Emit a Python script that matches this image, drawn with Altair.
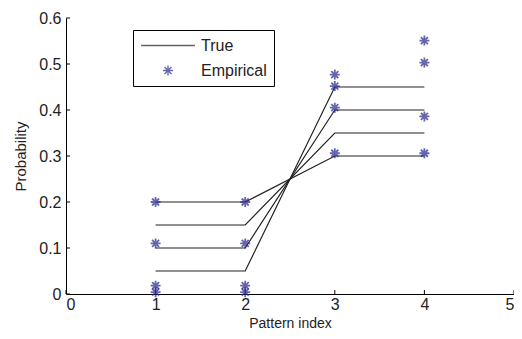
import altair as alt
import pandas as pd

# True curves: values at pattern index 1..4
pattern_idx = [1, 2, 3, 4]
true_curves = [
    [0.20, 0.20, 0.30, 0.30],
    [0.15, 0.15, 0.35, 0.35],
    [0.10, 0.10, 0.40, 0.40],
    [0.05, 0.05, 0.45, 0.45],
]

# Empirical points
emp_x = [1, 1, 1, 1, 2, 2, 2, 2, 3, 3, 3, 3, 4, 4, 4, 4]
emp_y = [0.20, 0.11, 0.018, 0.004,
         0.20, 0.11, 0.018, 0.004,
         0.477, 0.452, 0.405, 0.306,
         0.551, 0.503, 0.386, 0.306]

x_ticks = [0, 1, 2, 3, 4, 5]
y_ticks = [0, 0.1, 0.2, 0.3, 0.4, 0.5, 0.6]

STAR = "M-1,0L1,0M0,-1L0,1M-0.7,-0.7L0.7,0.7M-0.7,0.7L0.7,-0.7"
BLUE = "#26268e"
FONT = "Liberation Sans"
W, H = 448, 276

line_rows = []
for i, curve in enumerate(true_curves):
    for xv, yv in zip(pattern_idx, curve):
        line_rows.append({"line": i, "x": xv, "y": yv})
lines_df = pd.DataFrame(line_rows)
emp_df = pd.DataFrame({"x": emp_x, "y": emp_y, "series": "Empirical"})
xt_df = pd.DataFrame({"v": x_ticks})
yt_df = pd.DataFrame({"v": y_ticks})

xscale = alt.Scale(domain=[0, 5], nice=False)
yscale = alt.Scale(domain=[0, 0.6], nice=False)

xaxis = alt.Axis(values=x_ticks, title="Pattern index", grid=False, ticks=False, tickSize=0,
                 format="d", labelPadding=2, titleY=33.5, titleBaseline="alphabetic",
                 labelFontSize=16, titleFontSize=14,
                 labelColor="#222", titleColor="#222", domainColor="#000", titleFontWeight="normal",
                 labelFont=FONT, titleFont=FONT)
yaxis = alt.Axis(values=y_ticks, title="Probability", grid=False, ticks=False, tickSize=0,
                 labelPadding=5, titlePadding=10, labelFontSize=16, titleFontSize=15,
                 labelExpr="datum.value == 0 ? '0' : format(datum.value, '.1f')",
                 labelColor="#222", titleColor="#222", domainColor="#000", titleFontWeight="normal",
                 labelFont=FONT, titleFont=FONT)

base_axes = alt.Chart(lines_df).mark_line(color="#222", strokeWidth=1.2).encode(
    x=alt.X("x:Q", scale=xscale, axis=xaxis),
    y=alt.Y("y:Q", scale=yscale, axis=yaxis),
    detail="line:N",
)

dom = ["True", "Empirical"]
legend = alt.Legend(title=None, orient="none", legendX=67, legendY=12,
                    strokeColor="#000", fillColor="white", padding=7, clipHeight=17,
                    labelFontSize=16, labelFont=FONT, labelColor="#222",
                    rowPadding=8, labelOffset=5, symbolStrokeWidth=1.4)

points = alt.Chart(emp_df).mark_point(filled=False, strokeWidth=1.8).encode(
    x=alt.X("x:Q", scale=xscale),
    y=alt.Y("y:Q", scale=yscale),
    color=alt.Color("series:N", scale=alt.Scale(domain=dom, range=["#222", BLUE]), legend=legend),
    shape=alt.Shape("series:N", scale=alt.Scale(domain=dom, range=["stroke", STAR]), legend=legend),
    size=alt.Size("series:N", scale=alt.Scale(domain=dom, range=[2900, 100]), legend=legend),
)

xticks = alt.Chart(xt_df).mark_rule(color="#000", strokeWidth=1).encode(
    x=alt.X("v:Q", scale=xscale), y=alt.value(H), y2=alt.value(H - 4))
yticks = alt.Chart(yt_df).mark_rule(color="#000", strokeWidth=1).encode(
    y=alt.Y("v:Q", scale=yscale), x=alt.value(0), x2=alt.value(4))

chart = alt.layer(base_axes, xticks, yticks, points).properties(
    width=W, height=H,
    padding={"left": 58, "top": 10, "right": 0, "bottom": 37},
    autosize=alt.AutoSizeParams(type="none"),
).configure_view(stroke=None).configure_axis(domainWidth=1)

chart.save("out.html", embed_options={"renderer": "svg", "actions": False})
